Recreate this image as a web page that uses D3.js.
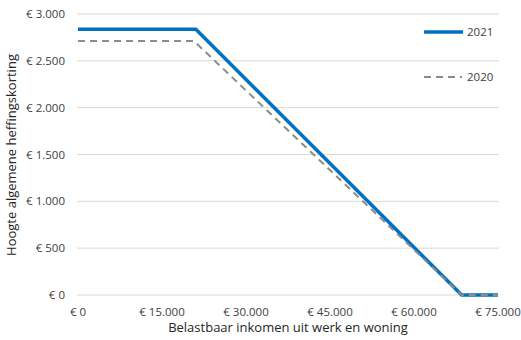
<!DOCTYPE html>
<html>
<head>
<meta charset="utf-8">
<script src="https://cdn.jsdelivr.net/npm/d3@7"></script>
<style>
  body { margin: 0; background: #fff; }
  svg { display: block; font-family: "Open Sans", Lato, sans-serif; }
</style>
</head>
<body>
<div id="chart"></div>
<script>
// data: income breakpoints and heffingskorting per year
var income2021 = [0, 21043, 68507, 75000];
var credit2021 = [2837, 2837, 0, 0];
var income2020 = [0, 20711, 68507, 75000];
var credit2020 = [2711, 2711, 0, 0];
var xTicks = [0, 15000, 30000, 45000, 60000, 75000];
var yTicks = [0, 500, 1000, 1500, 2000, 2500, 3000];
var seriesNames = ["2021", "2020"];

var width = 521;
var height = 340;
var margin = { top: 14, right: 23, bottom: 45, left: 78 };

var svg = d3.select("#chart")
    .append("svg")
    .attr("width", width)
    .attr("height", height);

var x = d3.scaleLinear()
    .domain([0, 75000])
    .range([margin.left, 498]);

var y = d3.scaleLinear()
    .domain([0, 3000])
    .range([height - margin.bottom, margin.top]);

var fmt = function (d) {
    return "€ " + d3.format(",")(d).replace(/,/g, ".");
};

// gridlines
svg.append("g")
    .selectAll("line")
    .data(yTicks)
    .enter()
    .append("line")
    .attr("x1", x(0) - 1)
    .attr("x2", x(75000) + 1)
    .attr("y1", function (d) { return y(d); })
    .attr("y2", function (d) { return y(d); })
    .attr("stroke", "#d9d9d9")
    .attr("stroke-width", 1);

// y labels
svg.append("g")
    .selectAll("text")
    .data(yTicks)
    .enter()
    .append("text")
    .attr("x", 65)
    .attr("y", function (d) { return y(d); })
    .attr("dy", "0.35em")
    .attr("text-anchor", "end")
    .attr("font-size", 11.5)
    .attr("fill", "#404040")
    .text(fmt);

// x labels
svg.append("g")
    .selectAll("text")
    .data(xTicks)
    .enter()
    .append("text")
    .attr("x", function (d) { return x(d); })
    .attr("y", 316)
    .attr("text-anchor", "middle")
    .attr("font-size", 11.5)
    .attr("fill", "#404040")
    .text(fmt);

// axis titles
svg.append("text")
    .attr("x", 288)
    .attr("y", 332)
    .attr("text-anchor", "middle")
    .attr("font-size", 13)
    .attr("fill", "#262626")
    .text("Belastbaar inkomen uit werk en woning");

svg.append("text")
    .attr("transform", "translate(16," + 155 + ") rotate(-90)")
    .attr("text-anchor", "middle")
    .attr("font-size", 13)
    .attr("fill", "#262626")
    .text("Hoogte algemene heffingskorting");

var line = d3.line()
    .x(function (d) { return x(d[0]); })
    .y(function (d) { return y(d[1]); });

svg.append("path")
    .datum(d3.zip(income2021, credit2021))
    .attr("d", line)
    .attr("fill", "none")
    .attr("stroke", "#0070c0")
    .attr("stroke-width", 3.5);

svg.append("path")
    .datum(d3.zip(income2020, credit2020))
    .attr("d", line)
    .attr("fill", "none")
    .attr("stroke", "#8c8c8c")
    .attr("stroke-width", 2)
    .attr("stroke-dasharray", "7,5");

// legend
var legend = svg.append("g");
legend.append("line")
    .attr("x1", 424).attr("x2", 463)
    .attr("y1", 32).attr("y2", 32)
    .attr("stroke", "#0070c0")
    .attr("stroke-width", 3.5);
legend.append("line")
    .attr("x1", 424).attr("x2", 462)
    .attr("y1", 77).attr("y2", 77)
    .attr("stroke", "#8c8c8c")
    .attr("stroke-width", 2)
    .attr("stroke-dasharray", "7,5");
legend.selectAll("text")
    .data(seriesNames)
    .enter()
    .append("text")
    .attr("x", 467)
    .attr("y", function (d, i) { return i == 0 ? 32 : 77; })
    .attr("dy", "0.35em")
    .attr("font-size", 11.5)
    .attr("fill", "#404040")
    .text(function (d) { return d; });
</script>
</body>
</html>
